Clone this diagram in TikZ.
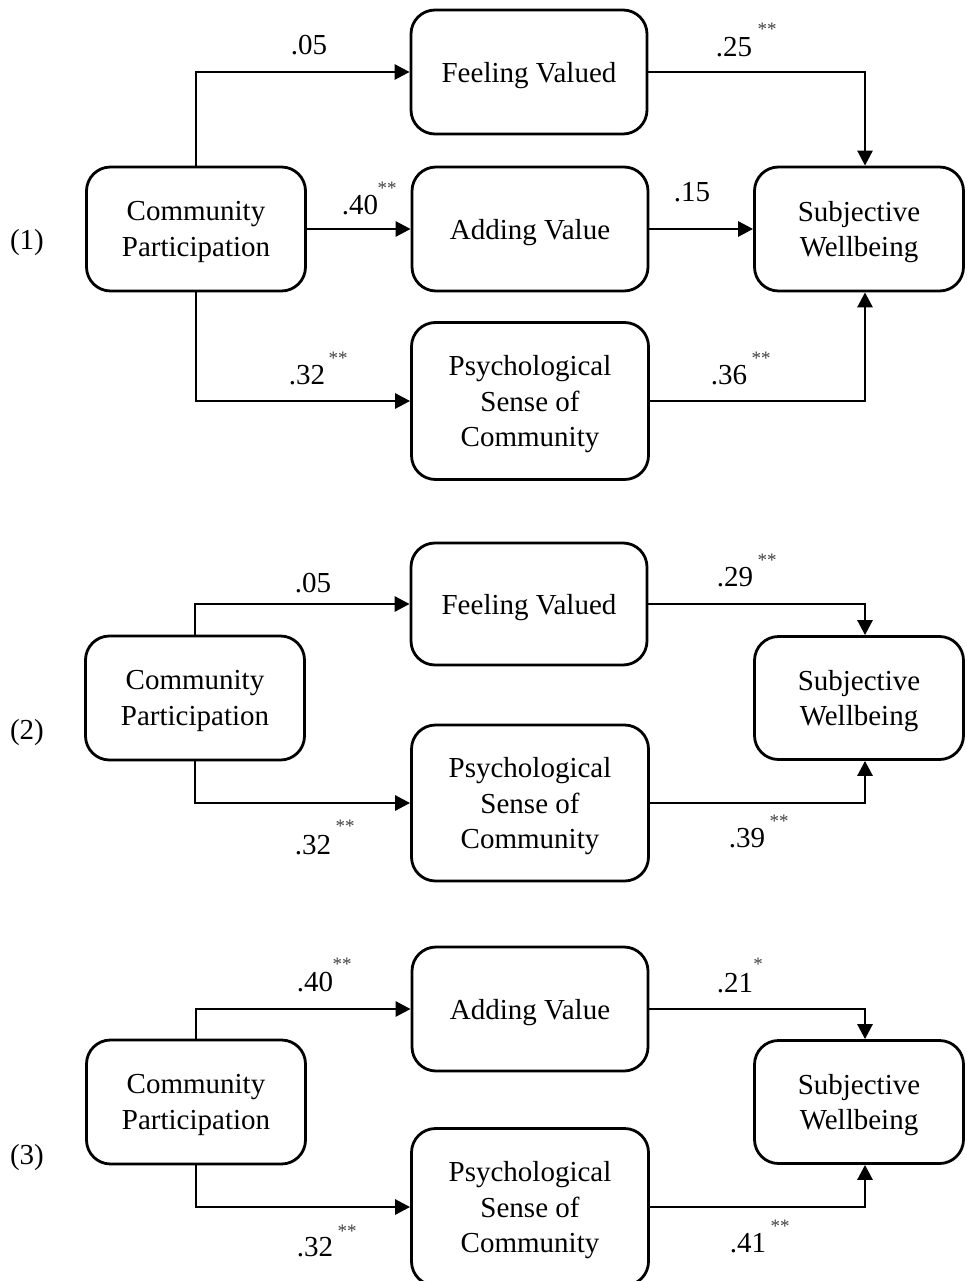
\documentclass[tikz,border=0pt]{standalone}
\usepackage{fontspec}
\setmainfont{Liberation Serif}
\usetikzlibrary{arrows.meta}

\begin{document}
\begin{tikzpicture}[x=1pt, y=-1pt, >={Triangle[length=15pt,width=15pt]},
  font=\fontsize{29}{35.5}\selectfont,
  box/.style={draw, line width=2.8pt, rounded corners=24pt, align=center, inner sep=0pt, text depth=0pt},
  link/.style={->, line width=2.8pt},
  coef/.style={inner sep=0pt},
  stars/.style={inner sep=0pt, text=black!75, font=\fontsize{19}{19}\selectfont}]

  \useasboundingbox (0,0) rectangle (966,1281);
  \clip (0,0) rectangle (966,1281);

  % (1)
  \node (n1) at (27,243) {(1)};

  \node[box, minimum width=219pt, minimum height=124pt] (cp1) at (196,229) {Community\\Participation};
  \node[box, minimum width=236pt, minimum height=124pt] (fv1) at (529,72) {Feeling Valued};
  \node[box, minimum width=236pt, minimum height=124pt] (av1) at (530,229) {Adding Value};
  \node[box, minimum width=237pt, minimum height=157pt] (ps1) at (530,401) {Psychological\\Sense of\\Community};
  \node[box, minimum width=209pt, minimum height=124pt] (sw1) at (859,229) {Subjective\\Wellbeing};

  \draw[link] (cp1.north) |- (fv1.west);
  \draw[link] (cp1.east) -- (av1.west);
  \draw[link] (cp1.south) |- (ps1.west);
  \draw[link] (fv1.east) -| ([xshift=6pt]sw1.north);
  \draw[link] (av1.east) -- (sw1.west);
  \draw[link] (ps1.east) -| ([xshift=6pt]sw1.south);

  \node[coef] (k1a) at (309,45) {.05};
  \node[coef] (k1b) at (360,205) {.40};
  \node[stars] (k1bs) at (387,188) {**};
  \node[coef] (k1c) at (307,375) {.32};
  \node[stars] (k1cs) at (338,358) {**};
  \node[coef] (k1d) at (734,47) {.25};
  \node[stars] (k1ds) at (767,29) {**};
  \node[coef] (k1e) at (692,192) {.15};
  \node[coef] (k1f) at (729,375) {.36};
  \node[stars] (k1fs) at (761,358) {**};

  % (2)
  \node (n2) at (27,733) {(2)};

  \node[box, minimum width=219pt, minimum height=124pt] (cp2) at (195,698) {Community\\Participation};
  \node[box, minimum width=236pt, minimum height=122pt] (fv2) at (529,604) {Feeling Valued};
  \node[box, minimum width=237pt, minimum height=156pt] (ps2) at (530,803) {Psychological\\Sense of\\Community};
  \node[box, minimum width=209pt, minimum height=123pt] (sw2) at (859,698) {Subjective\\Wellbeing};

  \draw[link] (cp2.north) |- (fv2.west);
  \draw[link] (cp2.south) |- (ps2.west);
  \draw[link] (fv2.east) -| ([xshift=6pt]sw2.north);
  \draw[link] (ps2.east) -| ([xshift=6pt]sw2.south);

  \node[coef] (k2a) at (313,583) {.05};
  \node[coef] (k2b) at (313,845) {.32};
  \node[stars] (k2bs) at (345,826) {**};
  \node[coef] (k2c) at (735,577) {.29};
  \node[stars] (k2cs) at (767,560) {**};
  \node[coef] (k2d) at (747,838) {.39};
  \node[stars] (k2ds) at (779,821) {**};

  % (3)
  \node (n3) at (27,1158) {(3)};

  \node[box, minimum width=219pt, minimum height=124pt] (cp3) at (196,1102) {Community\\Participation};
  \node[box, minimum width=236pt, minimum height=124pt] (av3) at (530,1009) {Adding Value};
  \node[box, minimum width=237pt, minimum height=157pt] (ps3) at (530,1207) {Psychological\\Sense of\\Community};
  \node[box, minimum width=209pt, minimum height=123pt] (sw3) at (859,1102) {Subjective\\Wellbeing};

  \draw[link] (cp3.north) |- (av3.west);
  \draw[link] (cp3.south) |- (ps3.west);
  \draw[link] (av3.east) -| ([xshift=6pt]sw3.north);
  \draw[link] (ps3.east) -| ([xshift=6pt]sw3.south);

  \node[coef] (k3a) at (315,982) {.40};
  \node[stars] (k3as) at (342,964) {**};
  \node[coef] (k3b) at (315,1247) {.32};
  \node[stars] (k3bs) at (347,1231) {**};
  \node[coef] (k3c) at (735,983) {.21};
  \node[stars] (k3cs) at (758,964) {*};
  \node[coef] (k3d) at (748,1243) {.41};
  \node[stars] (k3ds) at (780,1226) {**};

\end{tikzpicture}
\end{document}
